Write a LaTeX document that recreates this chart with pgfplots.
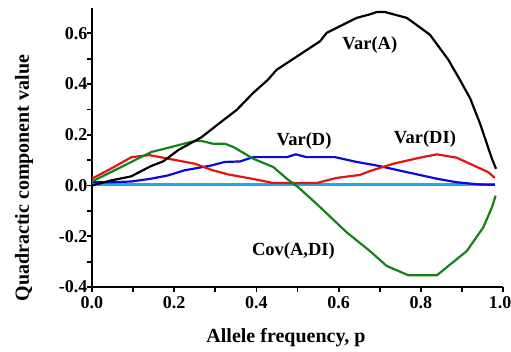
\documentclass[border=0pt]{standalone}
\usepackage{pgfplots}
\pgfplotsset{compat=1.18}
\usepackage{fontspec}
\setmainfont{Liberation Serif}
\definecolor{cblack}{RGB}{0,0,0}
\definecolor{cred}{RGB}{228,20,20}
\definecolor{cblue}{RGB}{10,10,220}
\definecolor{cgreen}{RGB}{20,130,20}
\definecolor{csky}{RGB}{30,170,230}
\begin{document}
\begin{tikzpicture}
\path[use as bounding box] (-92pt,-65pt) rectangle (419pt,287pt);
\begin{axis}[
  scale only axis,
  width=411pt, height=279pt,
  xmin=0, xmax=1.0, ymin=-0.4, ymax=0.70,
  axis x line*=bottom, axis y line*=left,
  axis line style={-, line width=2.4pt, black},
  /pgf/number format/assume math mode=true,
  xtick={0,0.2,0.4,0.6,0.8,1.0},
  xticklabels={\textbf{0.0},\textbf{0.2},\textbf{0.4},\textbf{0.6},\textbf{0.8},\textbf{1.0}\kern6pt},
  ytick={-0.4,-0.2,0,0.2,0.4,0.6},
  yticklabels={\textbf{-0.4},\textbf{-0.2},\textbf{0.0},\textbf{0.2},\textbf{0.4},\textbf{0.6}},
  minor tick num=1,
  tick align=outside,
  major tick length=5pt, minor tick length=5pt,
  tick style={line width=1.8pt, black},
  ticklabel style={font=\fontsize{18}{20}\selectfont\bfseries},
  xticklabel style={anchor=north, yshift=-1.5pt},
  yticklabel style={anchor=east, xshift=4pt},
  xlabel={Allele frequency, p},
  ylabel={Quadractic component value},
  xlabel style={font=\fontsize{20}{24}\selectfont\bfseries, at={(axis description cs:0.472,-0.183)}, anchor=center},
  ylabel style={font=\fontsize{20}{24}\selectfont\bfseries, at={(axis description cs:-0.165,0.39)}, anchor=center, rotate=0},
  clip=false,
]
% zero line
\addplot[csky, line width=2.6pt] coordinates {(0,0.003) (0.98,0.003)};
% Var(D)
\addplot[cblue, line width=2.2pt] coordinates {
(0,0.013) (0.05,0.013) (0.096,0.016) (0.144,0.027) (0.185,0.04) (0.225,0.06) (0.29,0.079) (0.323,0.093) (0.36,0.095) (0.392,0.112) (0.474,0.112) (0.496,0.123) (0.522,0.112) (0.591,0.112) (0.644,0.093) (0.693,0.079) (0.76,0.055) (0.839,0.027) (0.887,0.013) (0.944,0.004) (0.98,0.003)};
% Var(DI)
\addplot[cred, line width=2.2pt] coordinates {
(0,0.027) (0.05,0.07) (0.096,0.112) (0.14,0.12) (0.185,0.106) (0.25,0.086) (0.294,0.06) (0.331,0.044) (0.392,0.026) (0.441,0.01) (0.547,0.01) (0.595,0.03) (0.652,0.042) (0.676,0.057) (0.733,0.086) (0.798,0.11) (0.839,0.123) (0.887,0.11) (0.964,0.053) (0.98,0.03)};
% Cov(A,DI)
\addplot[cgreen, line width=2.2pt] coordinates {
(0,0.016) (0.071,0.073) (0.144,0.132) (0.193,0.152) (0.25,0.176) (0.266,0.176) (0.294,0.165) (0.323,0.165) (0.344,0.152) (0.392,0.106) (0.441,0.073) (0.474,0.027) (0.502,-0.007) (0.547,-0.073) (0.62,-0.185) (0.676,-0.258) (0.717,-0.317) (0.77,-0.354) (0.839,-0.354) (0.912,-0.258) (0.952,-0.165) (0.973,-0.086) (0.982,-0.04)};
% Var(A)
\addplot[cblack, line width=2.2pt] coordinates {
(0,0.0) (0.046,0.02) (0.095,0.036) (0.144,0.077) (0.173,0.095) (0.21,0.14) (0.266,0.19) (0.311,0.247) (0.352,0.298) (0.392,0.365) (0.428,0.417) (0.449,0.456) (0.555,0.569) (0.571,0.602) (0.644,0.661) (0.676,0.675) (0.693,0.684) (0.713,0.684) (0.766,0.661) (0.822,0.595) (0.867,0.496) (0.895,0.417) (0.92,0.344) (0.944,0.245) (0.973,0.106) (0.983,0.066)};
\node[font=\fontsize{18.5}{22}\selectfont\bfseries] at (axis cs:0.676,0.552) {Var(A)};
\node[font=\fontsize{18.5}{22}\selectfont\bfseries] at (axis cs:0.516,0.175) {Var(D)};
\node[font=\fontsize{18.5}{22}\selectfont\bfseries] at (axis cs:0.81,0.185) {Var(DI)};
\node[font=\fontsize{18.5}{22}\selectfont\bfseries] at (axis cs:0.49,-0.258) {Cov(A,DI)};
\end{axis}
\end{tikzpicture}
\end{document}
